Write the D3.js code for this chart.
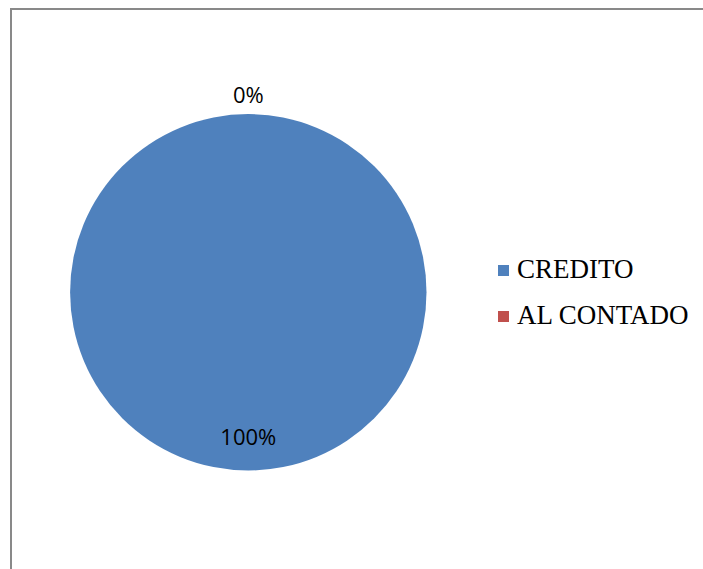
<!DOCTYPE html>
<html>
<head>
<meta charset="utf-8">
<script src="https://cdn.jsdelivr.net/npm/d3@7"></script>
<style>
  html, body { margin: 0; padding: 0; background: #ffffff; overflow: hidden; }
  svg { display: block; }
</style>
</head>
<body>
<svg id="chart" width="703" height="569"></svg>
<script>
// Forma de pago
const categories = ["CREDITO", "AL CONTADO"];
const values = [100, 0];
const colors = ["#4F81BD", "#C0504D"];

const width = 703, height = 569;
const svg = d3.select("#chart");

// chart area frame (right and bottom edges run past the page)
svg.append("rect")
  .attr("x", 11).attr("y", 9)
  .attr("width", 760).attr("height", 620)
  .attr("fill", "#ffffff")
  .attr("stroke", "#898989")
  .attr("stroke-width", 2);

const cx = 248.3, cy = 292.3, radius = 178.2;
const total = d3.sum(values);

const pie = d3.pie().sort(null).value(d => d.value);
const arcs = pie(categories.map((c, i) => ({ name: c, value: values[i], color: colors[i] })));

const arc = d3.arc().innerRadius(0).outerRadius(radius);

const g = svg.append("g").attr("transform", `translate(${cx},${cy})`);

g.selectAll("path.slice")
  .data(arcs)
  .join("path")
  .attr("class", "slice")
  .attr("d", arc)
  .attr("fill", d => d.data.color);

// percentage labels: large slices inside, empty slices just outside the rim
const fmt = d3.format(".0%");
g.selectAll("text.pct")
  .data(arcs)
  .join("text")
  .attr("class", "pct")
  .attr("transform", d => {
    const mid = (d.startAngle + d.endAngle) / 2;
    const r = d.value > 0 ? radius * 0.81 : radius + 19.5;
    return `translate(${Math.sin(mid) * r},${-Math.cos(mid) * r})`;
  })
  .attr("text-anchor", "middle")
  .attr("dy", "0.36em")
  .attr("font-family", "'Open Sans', 'Liberation Sans', sans-serif")
  .attr("font-size", 22)
  .attr("fill", "#000000")
  .text(d => fmt(d.data.value / total));

// legend
const legend = svg.append("g").attr("transform", "translate(498,265)");
const item = legend.selectAll("g.item")
  .data(categories)
  .join("g")
  .attr("class", "item")
  .attr("transform", (d, i) => `translate(0,${i * 46})`);

item.append("rect")
  .attr("width", 11).attr("height", 11)
  .attr("fill", (d, i) => colors[i]);

item.append("text")
  .attr("x", 19).attr("y", 13)
  .attr("font-family", "'Liberation Serif', 'Times New Roman', serif")
  .attr("font-size", 27)
  .attr("fill", "#000000")
  .text(d => d);
</script>
</body>
</html>
